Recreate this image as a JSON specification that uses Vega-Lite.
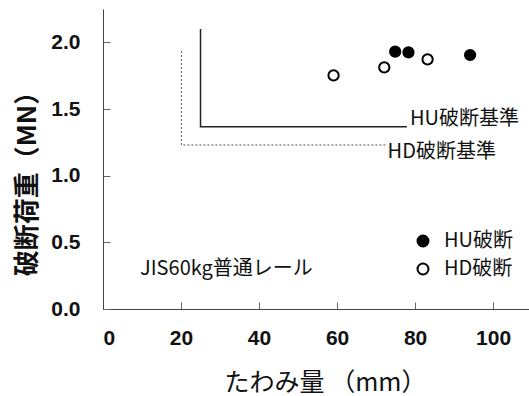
{
  "$schema": "https://vega.github.io/schema/vega-lite/v6.json",
  "width": 426,
  "height": 300,
  "autosize": {"type": "none"},
  "padding": {"left": 103, "top": 9, "right": 0, "bottom": 87},
  "background": "white",
  "config": {
    "view": {"stroke": null},
    "axis": {"grid": false, "domainColor": "#444", "tickColor": "#666", "tickSize": -7, "labelColor": "#111", "labelFont": "Liberation Sans", "labelFontSize": 21, "labelFontWeight": "bold", "titleColor": "#111", "titleFont": "Noto Sans CJK JP"}
  },
  "datasets": {
    "points": [
      {"x": 74.9, "y": 1.930, "type": "HU破断"},
      {"x": 78.3, "y": 1.925, "type": "HU破断"},
      {"x": 94.1, "y": 1.905, "type": "HU破断"},
      {"x": 59.1, "y": 1.752, "type": "HD破断"},
      {"x": 72.1, "y": 1.812, "type": "HD破断"},
      {"x": 83.2, "y": 1.872, "type": "HD破断"}
    ],
    "criteria": [
      {"crit": "HU", "label": "HU破断基準", "ord": 1, "x": 25.0, "y": 2.10},
      {"crit": "HU", "label": "HU破断基準", "ord": 2, "x": 25.0, "y": 1.367},
      {"crit": "HU", "label": "HU破断基準", "ord": 3, "x": 77.9, "y": 1.367},
      {"crit": "HD", "label": "HD破断基準", "ord": 1, "x": 20.1, "y": 1.935},
      {"crit": "HD", "label": "HD破断基準", "ord": 2, "x": 20.1, "y": 1.23},
      {"crit": "HD", "label": "HD破断基準", "ord": 3, "x": 72.7, "y": 1.23}
    ]
  },
  "encoding": {
    "x": {
      "field": "x", "type": "quantitative",
      "scale": {"domain": [0, 109.2], "nice": false, "zero": false},
      "axis": {"values": [0, 20, 40, 60, 80, 100], "labelPadding": 25, "title": "たわみ量 （mm）", "titleFontSize": 25, "titleFontWeight": "normal", "titleX": 222, "titleY": 73, "titleBaseline": "middle", "titleAlign": "center"}
    },
    "y": {
      "field": "y", "type": "quantitative",
      "scale": {"domain": [0, 2.25], "nice": false},
      "axis": {"values": [0, 0.5, 1, 1.5, 2], "format": ".1f", "labelPadding": 30, "title": "破断荷重（MN）", "titleFontSize": 26, "titleFontWeight": "bold", "titleX": -76, "titleY": 168, "titleBaseline": "middle", "titleAlign": "center", "titleAngle": -90}
    }
  },
  "layer": [
    {
      "data": {"values": [{}]},
      "mark": {"type": "rule", "color": "#444", "strokeWidth": 1},
      "encoding": {"x": {"datum": 0}, "x2": {"datum": 109.2}, "y": {"datum": 2.25}}
    },
    {
      "data": {"name": "criteria"},
      "transform": [{"filter": "datum.crit === 'HU'"}],
      "mark": {"type": "line", "color": "#222", "strokeWidth": 1.5},
      "encoding": {"order": {"field": "ord", "type": "quantitative"}}
    },
    {
      "data": {"name": "criteria"},
      "transform": [{"filter": "datum.crit === 'HD'"}],
      "mark": {"type": "line", "color": "#555", "strokeWidth": 1, "strokeDash": [2, 2]},
      "encoding": {"order": {"field": "ord", "type": "quantitative"}}
    },
    {
      "data": {"name": "criteria"},
      "transform": [{"filter": "datum.crit === 'HU' && datum.ord === 3"}],
      "mark": {"type": "text", "align": "left", "baseline": "middle", "dx": 3, "dy": -8, "font": "Noto Sans CJK JP", "fontSize": 20, "color": "#111"},
      "encoding": {"text": {"field": "label"}}
    },
    {
      "data": {"name": "criteria"},
      "transform": [{"filter": "datum.crit === 'HD' && datum.ord === 3"}],
      "mark": {"type": "text", "align": "left", "baseline": "middle", "dx": 1, "dy": 7, "font": "Noto Sans CJK JP", "fontSize": 20, "color": "#111"},
      "encoding": {"text": {"field": "label"}}
    },
    {
      "data": {"values": [{"note": "JIS60kg普通レール", "nx": 9.5, "ny": 0.30}]},
      "mark": {"type": "text", "align": "left", "baseline": "middle", "font": "Noto Sans CJK JP", "fontSize": 20, "color": "#111"},
      "encoding": {"x": {"field": "nx", "type": "quantitative"}, "y": {"field": "ny", "type": "quantitative"}, "text": {"field": "note", "type": "nominal"}}
    },
    {
      "data": {"name": "points"},
      "mark": {"type": "point", "shape": "circle", "size": 105, "stroke": "black", "strokeWidth": 2, "opacity": 1},
      "encoding": {
        "fill": {
          "field": "type", "type": "nominal",
          "scale": {"domain": ["HU破断", "HD破断"], "range": ["black", "white"]},
          "legend": {"orient": "none", "legendX": 310, "legendY": 222, "title": null, "padding": 0, "labelFont": "Noto Sans CJK JP", "labelFontSize": 20, "labelColor": "#111", "symbolType": "circle", "symbolSize": 120, "symbolStrokeColor": "black", "symbolStrokeWidth": 2, "rowPadding": 8, "labelOffset": 11}
        }
      }
    }
  ]
}
